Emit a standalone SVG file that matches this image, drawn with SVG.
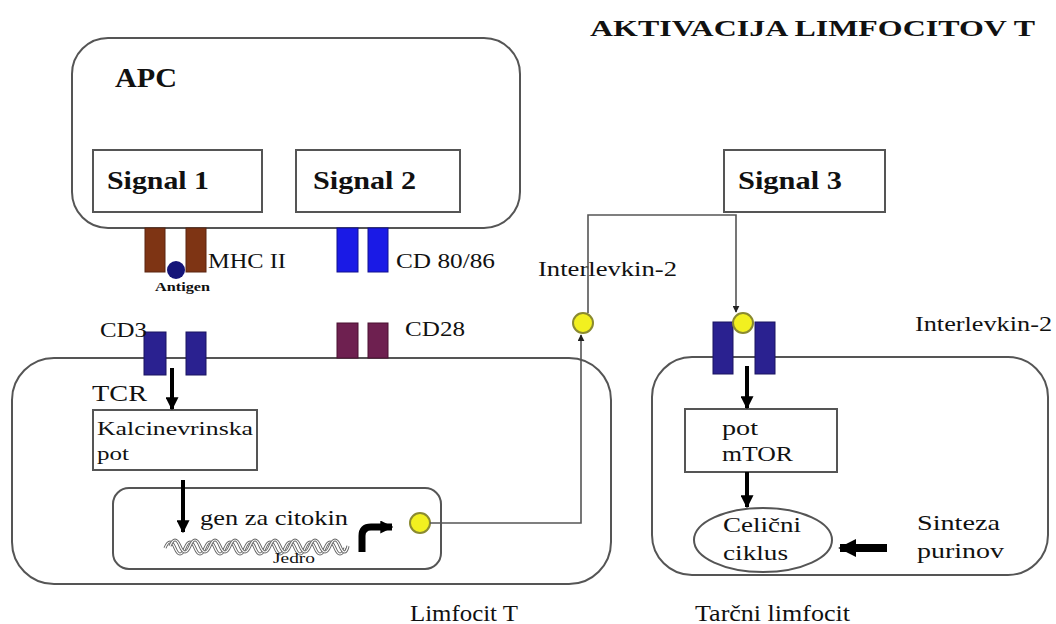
<svg xmlns="http://www.w3.org/2000/svg" width="1056" height="624" viewBox="0 0 1056 624" font-family="'Liberation Serif', 'DejaVu Serif', serif">
<style>
text{font-family:"Liberation Serif","DejaVu Serif",serif;fill:#111}
.b{font-weight:bold}
.cell{fill:none;stroke:#555;stroke-width:2}
.box{fill:#fff;stroke:#555;stroke-width:2}
.mhc{fill:#7e3414;stroke:#5a2410;stroke-width:1}
.cd80{fill:#1a1ae6;stroke:#101090;stroke-width:1}
.cd28{fill:#6e2050;stroke:#4a1030;stroke-width:1}
.tcr{fill:#2a2190;stroke:#1a1460;stroke-width:1}
.il{fill:#f2f020;stroke:#8a8a30;stroke-width:2}
.thin{fill:none;stroke:#555;stroke-width:1.6}
.thick{fill:none;stroke:#000;stroke-width:4}
.dna1{fill:none;stroke:#666;stroke-width:3.2}
.dna2{fill:none;stroke:#fff;stroke-width:1.2}
</style>
<defs>
<marker id="big" viewBox="0 0 10 10" refX="9" refY="5" markerUnits="userSpaceOnUse" markerWidth="13" markerHeight="13" orient="auto"><path d="M0,0 L10,5 L0,10 z" fill="#000"/></marker>
<marker id="huge" viewBox="0 0 10 10" refX="9" refY="5" markerUnits="userSpaceOnUse" markerWidth="18" markerHeight="20" orient="auto"><path d="M0,0 L10,5 L0,10 z" fill="#000"/></marker>
<marker id="small" viewBox="0 0 10 10" refX="9" refY="5" markerUnits="userSpaceOnUse" markerWidth="7" markerHeight="7" orient="auto"><path d="M0,0 L10,5 L0,10 z" fill="#222"/></marker>
</defs>
<rect width="1056" height="624" fill="#fff"/>
<text class="b" x="590" y="36" font-size="24" textLength="445" lengthAdjust="spacingAndGlyphs">AKTIVACIJA LIMFOCITOV T</text>

<g id="apc">
<rect class="cell" x="72" y="38" width="448" height="190" rx="36"/>
<text class="b" x="115" y="87" font-size="27" textLength="62" lengthAdjust="spacingAndGlyphs">APC</text>
</g>
<g id="signal1"><rect class="box" x="93" y="150" width="169" height="62"/><text class="b" x="107" y="189" font-size="26" textLength="102" lengthAdjust="spacingAndGlyphs">Signal 1</text></g>
<g id="signal2"><rect class="box" x="296" y="150" width="164" height="62"/><text class="b" x="313" y="189" font-size="26" textLength="103" lengthAdjust="spacingAndGlyphs">Signal 2</text></g>
<g id="signal3"><rect class="box" x="724" y="150" width="161" height="62"/><text class="b" x="738" y="189" font-size="26" textLength="104" lengthAdjust="spacingAndGlyphs">Signal 3</text></g>

<g id="mhc2">
<rect class="mhc" x="145" y="228" width="20" height="44"/>
<rect class="mhc" x="186" y="228" width="20" height="44"/>
<circle cx="176" cy="270" r="9" fill="#141478"/>
<text class="b" x="155" y="291" font-size="12" textLength="55" lengthAdjust="spacingAndGlyphs">Antigen</text>
<text x="208" y="268" font-size="22" textLength="78" lengthAdjust="spacingAndGlyphs">MHC II</text>
</g>
<g id="cd8086">
<rect class="cd80" x="337" y="228" width="21" height="44"/>
<rect class="cd80" x="368" y="228" width="20" height="44"/>
<text x="396" y="268" font-size="21" textLength="99" lengthAdjust="spacingAndGlyphs">CD 80/86</text>
</g>

<g id="tcell">
<rect class="cell" x="12" y="358" width="599" height="226" rx="42"/>
<text x="410" y="621" font-size="23" textLength="108" lengthAdjust="spacingAndGlyphs">Limfocit T</text>
</g>
<g id="cd28">
<rect class="cd28" x="337" y="323" width="21" height="35"/>
<rect class="cd28" x="368" y="323" width="20" height="35"/>
<text x="405" y="336" font-size="21" textLength="60" lengthAdjust="spacingAndGlyphs">CD28</text>
</g>
<g id="cd3-tcr">
<rect class="tcr" x="144" y="332" width="22" height="43"/>
<rect class="tcr" x="186" y="332" width="20" height="43"/>
<text x="100" y="337" font-size="21" textLength="47" lengthAdjust="spacingAndGlyphs">CD3</text>
<text x="92" y="401" font-size="24" textLength="55" lengthAdjust="spacingAndGlyphs">TCR</text>
</g>
<g id="kalcinevrin">
<rect class="box" x="93" y="410" width="164" height="60" stroke-width="1.5"/>
<text x="97" y="435" font-size="18" textLength="156" lengthAdjust="spacingAndGlyphs">Kalcinevrinska</text>
<text x="97" y="460" font-size="18" textLength="32" lengthAdjust="spacingAndGlyphs">pot</text>
</g>
<g id="jedro">
<rect class="cell" x="113" y="488" width="328" height="81" rx="16"/>
<text x="200" y="525" font-size="22" textLength="148" lengthAdjust="spacingAndGlyphs">gen za citokin</text>
<path class="dna1" d="M165,548 q5,-12 10,0 t10,0 t10,0 t10,0 t10,0 t10,0 t10,0 t10,0 t10,0 t10,0 t10,0 t10,0 t10,0 t10,0 t10,0 t10,0 t10,0 t10,0"/>
<path class="dna2" d="M165,548 q5,-12 10,0 t10,0 t10,0 t10,0 t10,0 t10,0 t10,0 t10,0 t10,0 t10,0 t10,0 t10,0 t10,0 t10,0 t10,0 t10,0 t10,0 t10,0"/>
<path class="dna1" d="M170,546 q5,-12 10,0 t10,0 t10,0 t10,0 t10,0 t10,0 t10,0 t10,0 t10,0 t10,0 t10,0 t10,0 t10,0 t10,0 t10,0 t10,0 t10,0 t8,0"/>
<path class="dna2" d="M170,546 q5,-12 10,0 t10,0 t10,0 t10,0 t10,0 t10,0 t10,0 t10,0 t10,0 t10,0 t10,0 t10,0 t10,0 t10,0 t10,0 t10,0 t10,0 t8,0"/>
<text x="273" y="563" font-size="14" textLength="42" lengthAdjust="spacingAndGlyphs">Jedro</text>
<path d="M362,552 V536 Q362,527 371,527 H392" fill="none" stroke="#000" stroke-width="7" marker-end="url(#big)"/>
<circle class="il" cx="420" cy="523" r="10"/>
</g>

<g id="il2-secreted">
<circle class="il" cx="583" cy="323" r="10"/>
<text x="538" y="276" font-size="22" textLength="139" lengthAdjust="spacingAndGlyphs">Interlevkin-2</text>
</g>

<g id="target-cell">
<rect class="cell" x="652" y="357" width="396" height="218" rx="40"/>
<text x="695" y="621" font-size="23" textLength="155" lengthAdjust="spacingAndGlyphs">Tarčni limfocit</text>
</g>
<g id="il2-receptor">
<rect class="tcr" x="713" y="322" width="20" height="52"/>
<rect class="tcr" x="755" y="322" width="20" height="52"/>
<circle class="il" cx="743" cy="323" r="10"/>
<text x="915" y="331" font-size="21" textLength="137" lengthAdjust="spacingAndGlyphs">Interlevkin-2</text>
</g>
<g id="mtor">
<rect class="box" x="685" y="409" width="152" height="63" stroke-width="1.5"/>
<text x="722" y="435" font-size="21" textLength="36" lengthAdjust="spacingAndGlyphs">pot</text>
<text x="722" y="461" font-size="21" textLength="71" lengthAdjust="spacingAndGlyphs">mTOR</text>
</g>
<g id="celicni-ciklus">
<ellipse cx="763" cy="540" rx="69" ry="32" fill="#fff" stroke="#555" stroke-width="2"/>
<text x="723" y="532" font-size="22" textLength="78" lengthAdjust="spacingAndGlyphs">Celični</text>
<text x="723" y="560" font-size="22" textLength="65" lengthAdjust="spacingAndGlyphs">ciklus</text>
</g>
<g id="sinteza">
<text x="917" y="530" font-size="22" textLength="83" lengthAdjust="spacingAndGlyphs">Sinteza</text>
<text x="917" y="558" font-size="22" textLength="87" lengthAdjust="spacingAndGlyphs">purinov</text>
</g>

<g id="connectors">
<line class="thick" x1="172" y1="368" x2="172" y2="409" marker-end="url(#big)"/>
<line class="thick" x1="183" y1="480" x2="183" y2="532" marker-end="url(#big)"/>
<path class="thin" d="M430,523 H581 V335" marker-end="url(#small)"/>
<path class="thin" d="M588,313 V215 H736 V312" marker-end="url(#small)"/>
<line class="thick" x1="747" y1="366" x2="747" y2="408" marker-end="url(#big)"/>
<line class="thick" x1="747" y1="472" x2="747" y2="507" marker-end="url(#big)"/>
<line x1="887" y1="548" x2="840" y2="548" stroke="#000" stroke-width="8" marker-end="url(#huge)"/>
</g>
</svg>
